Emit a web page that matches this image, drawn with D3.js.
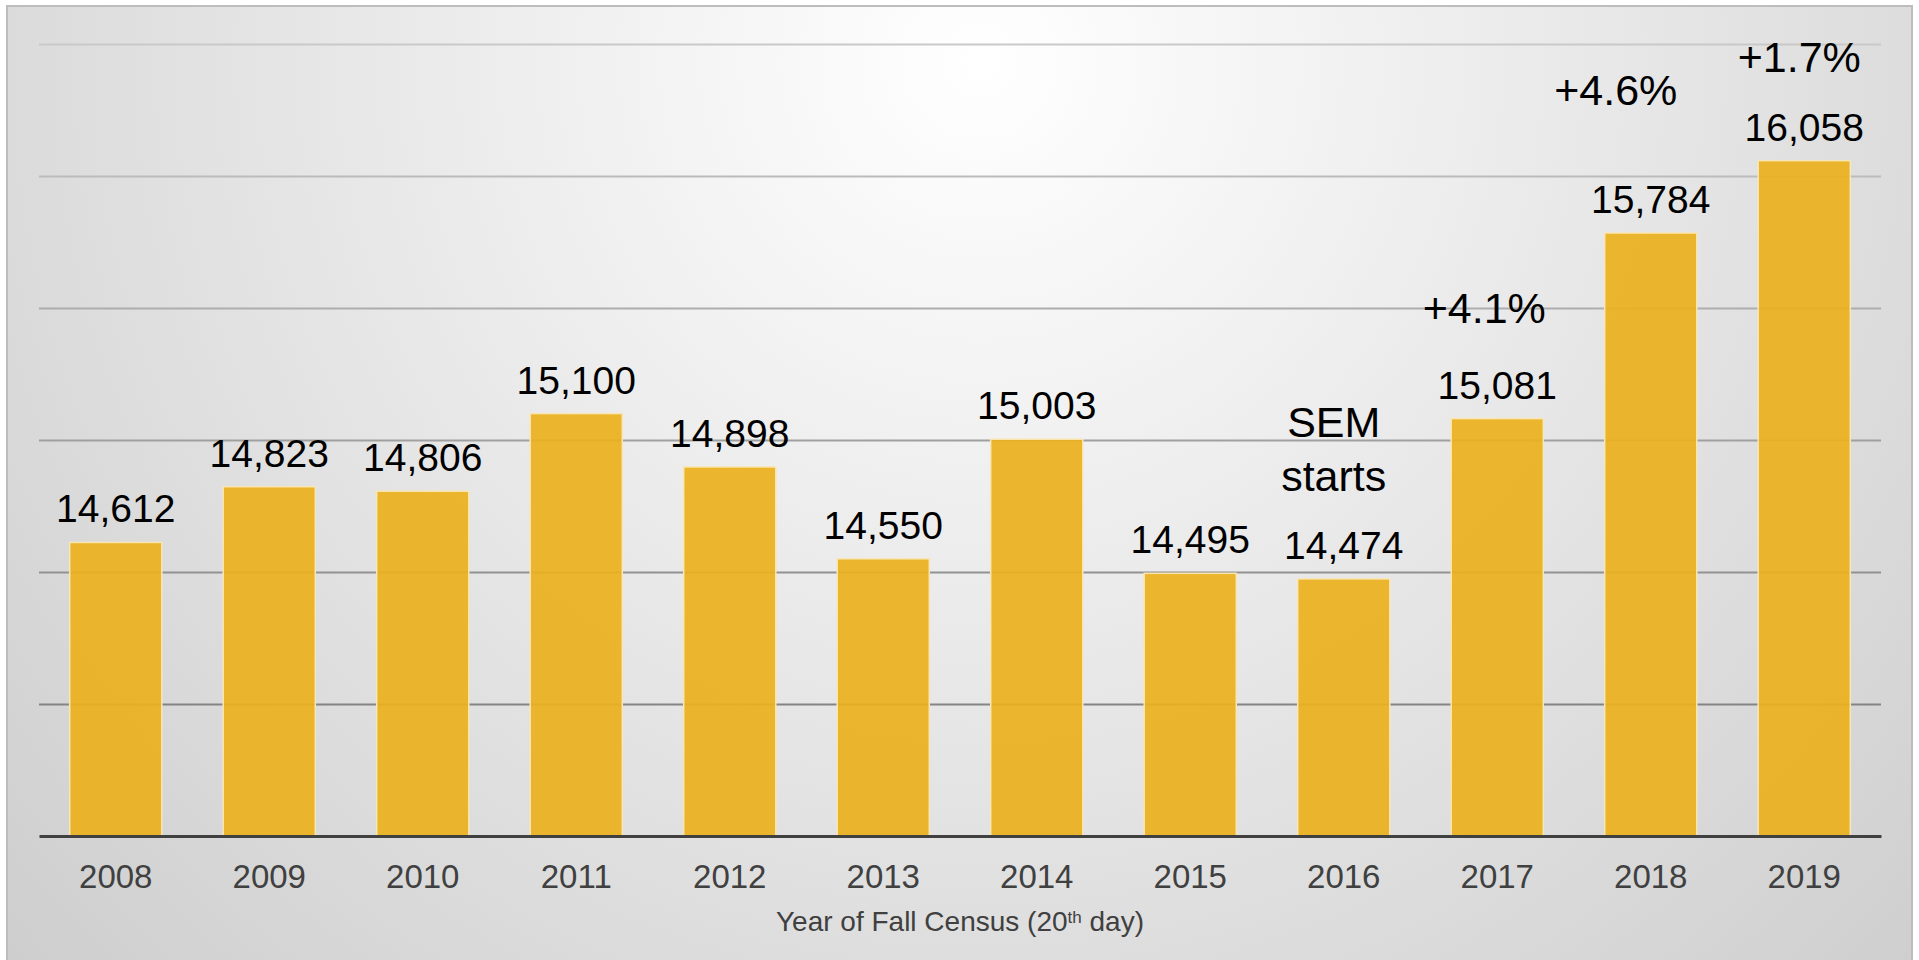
<!DOCTYPE html>
<html>
<head>
<meta charset="utf-8">
<script src="https://cdn.jsdelivr.net/npm/d3@7"></script>
<style>
  html, body { margin: 0; padding: 0; background: #ffffff; overflow: hidden; }
  text { font-family: "Liberation Sans", Arial, sans-serif; }
</style>
</head>
<body>
<svg id="chart" width="1919" height="960"></svg>
<script>
// fall census headcount per year
var years = ["2008", "2009", "2010", "2011", "2012", "2013", "2014", "2015", "2016", "2017", "2018", "2019"];
var enrollment = [14612, 14823, 14806, 15100, 14898, 14550, 15003, 14495, 14474, 15081, 15784, 16058];

// growth callouts
var changeYears = ["2017", "2018", "2019"];
var changeLabels = ["+4.1%", "+4.6%", "+1.7%"];

// note over 2016
var noteYear = "2016";
var noteLines = ["SEM", "starts"];

var yDomain = [13500, 16500];
var axisTitle = "Year of Fall Census (20";
var axisTitleSup = "th";
var axisTitleEnd = " day)";

// layout (offsets of callouts from the value label baseline)
var W = 1919, H = 960;
var plot = {left: 39, right: 1881, top: 44, bottom: 836};
var changeShift = [{dx: -13, dy: -76}, {dx: -35, dy: -108}, {dx: -5, dy: -69}];
var noteShift = {dx: -10, dy: [-122, -68]};

var fmt = d3.format(",");

var svg = d3.select("#chart");
var defs = svg.append("defs");

var bg = defs.append("radialGradient")
    .attr("id", "bg")
    .attr("gradientUnits", "userSpaceOnUse")
    .attr("cx", 980)
    .attr("cy", 60)
    .attr("r", 1400);
bg.append("stop").attr("offset", 0).attr("stop-color", "#ffffff");
bg.append("stop").attr("offset", 1).attr("stop-color", "#cbcbcb");

svg.append("rect")
    .attr("x", 7)
    .attr("y", 6)
    .attr("width", 1905)
    .attr("height", 970)
    .attr("fill", "url(#bg)")
    .attr("stroke", "#bdbdbd")
    .attr("stroke-width", 2);

var x = d3.scaleBand()
    .domain(years)
    .range([plot.left, plot.right])
    .paddingInner(0.4)
    .paddingOuter(0.2);

var y = d3.scaleLinear()
    .domain(yDomain)
    .range([plot.bottom, plot.top]);

var gridShade = d3.scaleLinear()
    .domain([plot.top, plot.bottom])
    .range(["#c9c9c9", "#767676"]);

// gridlines
var grid = svg.append("g")
    .attr("class", "grid")
    .attr("transform", "translate(" + plot.left + ",0)")
    .call(d3.axisLeft(y)
        .ticks(6)
        .tickSizeInner(-(plot.right - plot.left))
        .tickSizeOuter(0)
        .tickFormat(""));

grid.select(".domain").remove();
grid.selectAll(".tick")
    .filter(function(d) { return d === yDomain[0]; })
    .remove();
grid.selectAll(".tick line")
    .attr("stroke", function(d) { return gridShade(y(d)); })
    .attr("stroke-width", 2);

// bars
svg.append("g")
    .attr("class", "bars")
    .selectAll("rect")
    .data(enrollment)
    .enter()
    .append("rect")
    .attr("x", function(d, i) { return x(years[i]); })
    .attr("y", function(d) { return y(d); })
    .attr("width", x.bandwidth())
    .attr("height", function(d) { return y(yDomain[0]) - y(d); })
    .attr("fill", "#ebb11e")
    .attr("fill-opacity", 0.93)
    .attr("stroke", "#f8e6b4")
    .attr("stroke-width", 1.5);

// x axis
var xAxis = svg.append("g")
    .attr("class", "x-axis")
    .attr("transform", "translate(0," + plot.bottom + ")")
    .call(d3.axisBottom(x).tickSize(0).tickSizeOuter(0));

xAxis.select(".domain")
    .attr("stroke", "#404040")
    .attr("stroke-width", 3);
xAxis.selectAll(".tick text")
    .attr("y", 52)
    .attr("dy", 0)
    .attr("fill", "#404040")
    .style("font-size", "33px")
    .style("font-family", "\"Liberation Sans\", Arial, sans-serif");

// axis title
var title = svg.append("text")
    .attr("x", (plot.left + plot.right) / 2)
    .attr("y", 931)
    .attr("text-anchor", "middle")
    .attr("fill", "#404040")
    .style("font-size", "28px");
title.append("tspan").text(axisTitle);
title.append("tspan")
    .attr("dy", -8)
    .style("font-size", "17px")
    .text(axisTitleSup);
title.append("tspan")
    .attr("dy", 8)
    .text(axisTitleEnd);

// value labels
svg.append("g")
    .attr("class", "values")
    .selectAll("text")
    .data(enrollment)
    .enter()
    .append("text")
    .attr("x", function(d, i) { return x(years[i]) + x.bandwidth() / 2; })
    .attr("y", function(d) { return y(d) - 20; })
    .attr("text-anchor", "middle")
    .attr("fill", "#000000")
    .style("font-size", "39px")
    .text(function(d) { return fmt(d); });

// growth callouts
svg.append("g")
    .attr("class", "changes")
    .selectAll("text")
    .data(changeLabels)
    .enter()
    .append("text")
    .attr("x", function(d, i) {
        return x(changeYears[i]) + x.bandwidth() / 2 + changeShift[i].dx;
    })
    .attr("y", function(d, i) {
        var v = enrollment[years.indexOf(changeYears[i])];
        return y(v) - 20 + changeShift[i].dy;
    })
    .attr("text-anchor", "middle")
    .attr("fill", "#000000")
    .style("font-size", "43px")
    .text(function(d) { return d; });

// SEM note
var noteValue = enrollment[years.indexOf(noteYear)];
svg.append("g")
    .attr("class", "note")
    .selectAll("text")
    .data(noteLines)
    .enter()
    .append("text")
    .attr("x", x(noteYear) + x.bandwidth() / 2 + noteShift.dx)
    .attr("y", function(d, i) { return y(noteValue) - 20 + noteShift.dy[i]; })
    .attr("text-anchor", "middle")
    .attr("fill", "#000000")
    .style("font-size", "43px")
    .text(function(d) { return d; });
</script>
</body>
</html>
